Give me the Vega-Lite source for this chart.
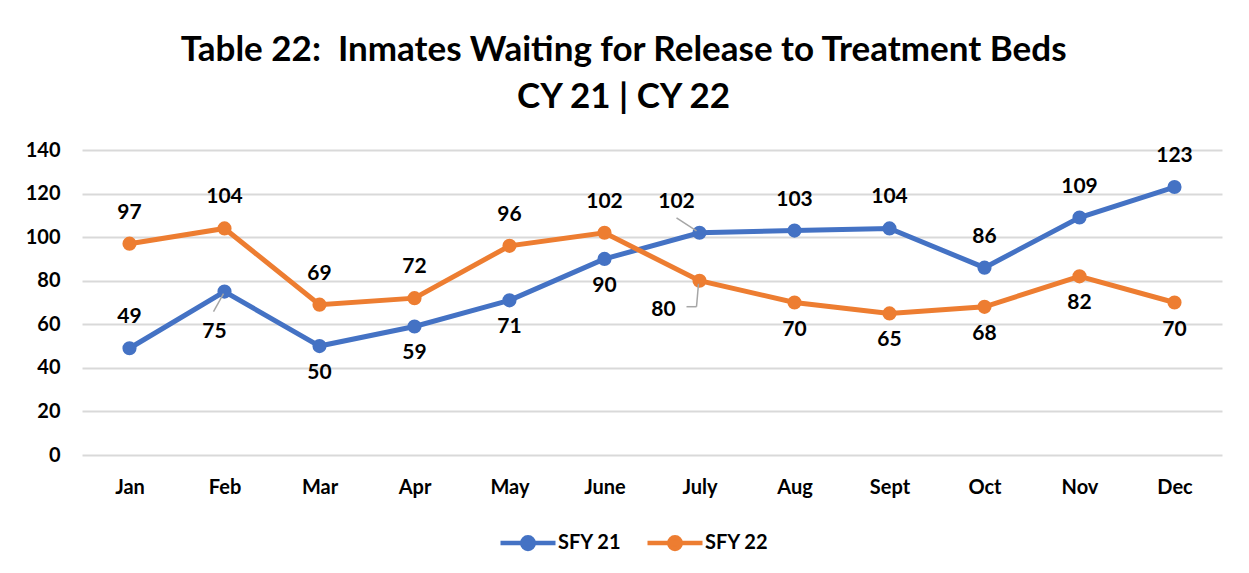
{
  "$schema": "https://vega.github.io/schema/vega-lite/v6.json",
  "width": 1140,
  "height": 305,
  "autosize": {"type": "none"},
  "padding": {"left": 82, "top": 150, "right": 27, "bottom": 118},
  "background": "#ffffff",
  "config": {
    "font": "Lato",
    "view": {"stroke": null},
    "axis": {"labelFont": "Lato", "labelFontWeight": "bold", "labelFontSize": 20, "labelColor": "#000000", "title": null}
  },
  "title": {
    "text": ["Table 22:\u00a0 Inmates Waiting for Release to Treatment Beds", "CY 21 | CY 22"],
    "font": "Lato",
    "fontSize": 35,
    "fontWeight": "bold",
    "color": "#000000",
    "lineHeight": 47,
    "anchor": "middle",
    "frame": "bounds",
    "offset": 25
  },
  "data": {
    "values": [
      {"month": "Jan", "series": "SFY 21", "value": 49},
      {"month": "Feb", "series": "SFY 21", "value": 75},
      {"month": "Mar", "series": "SFY 21", "value": 50},
      {"month": "Apr", "series": "SFY 21", "value": 59},
      {"month": "May", "series": "SFY 21", "value": 71},
      {"month": "June", "series": "SFY 21", "value": 90},
      {"month": "July", "series": "SFY 21", "value": 102},
      {"month": "Aug", "series": "SFY 21", "value": 103},
      {"month": "Sept", "series": "SFY 21", "value": 104},
      {"month": "Oct", "series": "SFY 21", "value": 86},
      {"month": "Nov", "series": "SFY 21", "value": 109},
      {"month": "Dec", "series": "SFY 21", "value": 123},
      {"month": "Jan", "series": "SFY 22", "value": 97},
      {"month": "Feb", "series": "SFY 22", "value": 104},
      {"month": "Mar", "series": "SFY 22", "value": 69},
      {"month": "Apr", "series": "SFY 22", "value": 72},
      {"month": "May", "series": "SFY 22", "value": 96},
      {"month": "June", "series": "SFY 22", "value": 102},
      {"month": "July", "series": "SFY 22", "value": 80},
      {"month": "Aug", "series": "SFY 22", "value": 70},
      {"month": "Sept", "series": "SFY 22", "value": 65},
      {"month": "Oct", "series": "SFY 22", "value": 68},
      {"month": "Nov", "series": "SFY 22", "value": 82},
      {"month": "Dec", "series": "SFY 22", "value": 70}
    ]
  },
  "encoding": {
    "x": {
      "field": "month", "type": "nominal",
      "sort": ["Jan","Feb","Mar","Apr","May","June","July","Aug","Sept","Oct","Nov","Dec"],
      "scale": {"type": "point", "padding": 0.5},
      "axis": {"labelAngle": 0, "domain": false, "ticks": false, "grid": false, "labelPadding": 22}
    },
    "y": {
      "field": "value", "type": "quantitative",
      "scale": {"domain": [0, 140], "nice": false},
      "axis": {"values": [0,20,40,60,80,100,120,140], "domain": false, "ticks": false, "grid": true, "gridColor": "#d9d9d9", "gridWidth": 2, "labelPadding": 22}
    }
  },
  "layer": [
    {
      "mark": {"type": "line", "strokeWidth": 5},
      "encoding": {
        "color": {
          "field": "series", "type": "nominal",
          "scale": {"domain": ["SFY 21","SFY 22"], "range": ["#4472C4","#ED7D31"]},
          "legend": {
            "title": null,
            "orient": "none",
            "direction": "horizontal",
            "legendX": 416,
            "legendY": 363,
            "symbolType": "M-1,0H1M0.21,0A0.21,0.21 0 1,1 -0.21,0A0.21,0.21 0 1,1 0.21,0Z",
            "symbolSize": 3025,
            "symbolStrokeWidth": 4.5,
            "symbolOpacity": 1,
            "labelFont": "Lato",
            "labelFontSize": 20,
            "labelFontWeight": "bold",
            "labelColor": "#000000",
            "labelOffset": 0,
            "columnPadding": 16,
            "encode": {"symbols": {"update": {"stroke": {"scale": "color", "field": "value"}, "fill": {"scale": "color", "field": "value"}}}}
          }
        }
      }
    },
    {
      "mark": {"type": "circle", "size": 200, "opacity": 1},
      "encoding": {
        "color": {"field": "series", "type": "nominal"}
      }
    },
    {
      "mark": {"type": "rule", "color": "#a6a6a6", "strokeWidth": 1.5, "xOffset": -1, "yOffset": 2, "x2Offset": -11, "y2Offset": 20},
      "transform": [{"filter": "datum.series == 'SFY 21' && datum.month == 'Feb'"}],
      "encoding": {"x2": {"field": "month"}, "y2": {"field": "value"}}
    },
    {
      "mark": {"type": "rule", "color": "#a6a6a6", "strokeWidth": 1.5, "xOffset": -23, "yOffset": -15, "x2Offset": -3, "y2Offset": -2},
      "transform": [{"filter": "datum.series == 'SFY 21' && datum.month == 'July'"}],
      "encoding": {"x2": {"field": "month"}, "y2": {"field": "value"}}
    },
    {
      "mark": {"type": "rule", "color": "#a6a6a6", "strokeWidth": 1.5, "xOffset": -1, "yOffset": 3, "x2Offset": -3, "y2Offset": 26},
      "transform": [{"filter": "datum.series == 'SFY 22' && datum.month == 'July'"}],
      "encoding": {"x2": {"field": "month"}, "y2": {"field": "value"}}
    },
    {
      "mark": {"type": "rule", "color": "#a6a6a6", "strokeWidth": 1.5, "xOffset": -3, "yOffset": 26, "x2Offset": -13, "y2Offset": 26},
      "transform": [{"filter": "datum.series == 'SFY 22' && datum.month == 'July'"}],
      "encoding": {"x2": {"field": "month"}, "y2": {"field": "value"}}
    },
    {
      "mark": {"type": "text", "font": "Lato", "fontSize": 21, "fontWeight": "bold", "color": "#000000", "baseline": "middle", "dy": -31},
      "transform": [{"filter": "(datum.series == 'SFY 21' && indexof(['Jan','Aug','Sept','Oct','Nov','Dec'], datum.month) >= 0) || (datum.series == 'SFY 22' && indexof(['Jan','Feb','Mar','Apr','May','June'], datum.month) >= 0)"}],
      "encoding": {"text": {"field": "value", "type": "quantitative"}}
    },
    {
      "mark": {"type": "text", "font": "Lato", "fontSize": 21, "fontWeight": "bold", "color": "#000000", "baseline": "middle", "dy": 27},
      "transform": [{"filter": "(datum.series == 'SFY 21' && indexof(['Mar','Apr','May','June'], datum.month) >= 0) || (datum.series == 'SFY 22' && indexof(['Aug','Sept','Oct','Nov','Dec'], datum.month) >= 0)"}],
      "encoding": {"text": {"field": "value", "type": "quantitative"}}
    },
    {
      "mark": {"type": "text", "font": "Lato", "fontSize": 21, "fontWeight": "bold", "color": "#000000", "baseline": "middle", "dx": -10, "dy": 40},
      "transform": [{"filter": "datum.series == 'SFY 21' && datum.month == 'Feb'"}],
      "encoding": {"text": {"field": "value", "type": "quantitative"}}
    },
    {
      "mark": {"type": "text", "font": "Lato", "fontSize": 21, "fontWeight": "bold", "color": "#000000", "baseline": "middle", "dx": -23, "dy": -31},
      "transform": [{"filter": "datum.series == 'SFY 21' && datum.month == 'July'"}],
      "encoding": {"text": {"field": "value", "type": "quantitative"}}
    },
    {
      "mark": {"type": "text", "font": "Lato", "fontSize": 21, "fontWeight": "bold", "color": "#000000", "baseline": "middle", "dx": -36, "dy": 29},
      "transform": [{"filter": "datum.series == 'SFY 22' && datum.month == 'July'"}],
      "encoding": {"text": {"field": "value", "type": "quantitative"}}
    }
  ]
}
